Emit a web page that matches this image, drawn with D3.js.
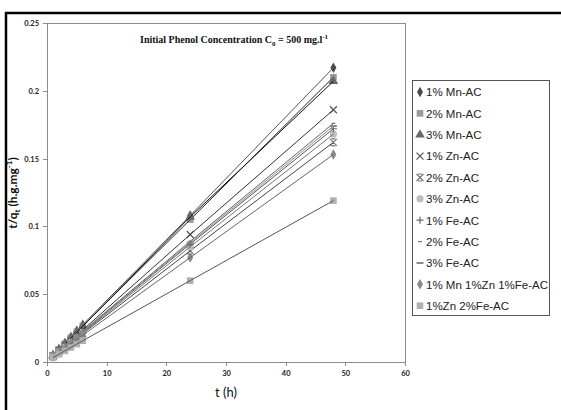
<!DOCTYPE html>
<html lang="en">
<head>
	<meta charset="utf-8">
	<title>Pseudo second order plot</title>
	<script src="https://cdn.jsdelivr.net/npm/d3@7"></script>
	<style type="text/css">
		body {
			margin: 0;
			background: #fff;
		}
		.axis path,
		.axis line {
			stroke: #8c8c8c;
			shape-rendering: crispEdges;
		}
		.axis text {
			font-family: Lato, "Open Sans", sans-serif;
			font-weight: bold;
			font-size: 7.5px;
			fill: #222;
		}
	</style>
</head>
<body>
	<div id="vis"></div>

	<script type="text/javascript">

		var w = 561;
		var h = 410;

		// data
		var times = [1, 2, 3, 4, 5, 6, 24, 48];
		var seriesNames = ["1% Mn-AC", "2% Mn-AC", "3% Mn-AC", "1% Zn-AC", "2% Zn-AC", "3% Zn-AC",
						   "1% Fe-AC", "2% Fe-AC", "3% Fe-AC", "1% Mn 1%Zn 1%Fe-AC", "1%Zn 2%Fe-AC"];
		var mn1 = [0.0050, 0.0095, 0.0140, 0.0185, 0.0230, 0.0275, 0.108, 0.217];
		var mn2 = [0.0048, 0.0092, 0.0135, 0.0180, 0.0223, 0.0267, 0.105, 0.210];
		var mn3 = [0.0047, 0.0090, 0.0133, 0.0177, 0.0220, 0.0263, 0.107, 0.207];
		var zn1 = [0.0044, 0.0083, 0.0121, 0.0160, 0.0198, 0.0237, 0.094, 0.186];
		var zn2 = [0.0040, 0.0074, 0.0108, 0.0142, 0.0176, 0.0210, 0.082, 0.162];
		var zn3 = [0.0041, 0.0076, 0.0111, 0.0146, 0.0181, 0.0216, 0.085, 0.168];
		var fe1 = [0.0042, 0.0078, 0.0114, 0.0150, 0.0186, 0.0222, 0.087, 0.172];
		var fe2 = [0.0043, 0.0080, 0.0117, 0.0154, 0.0191, 0.0228, 0.089, 0.176];
		var fe3 = [0.0042, 0.0079, 0.0116, 0.0152, 0.0189, 0.0225, 0.088, 0.174];
		var mix1 = [0.0038, 0.0070, 0.0102, 0.0134, 0.0166, 0.0198, 0.077, 0.153];
		var mix2 = [0.0032, 0.0057, 0.0082, 0.0107, 0.0132, 0.0157, 0.060, 0.119];
		var xTicks = [0, 10, 20, 30, 40, 50, 60];
		var yTicks = [0, 0.05, 0.1, 0.15, 0.2, 0.25];

		var allValues = [mn1, mn2, mn3, zn1, zn2, zn3, fe1, fe2, fe3, mix1, mix2];
		var markers = ["diamond", "square", "triangle", "x", "star", "circle", "plus", "dash", "bar", "diamond", "square"];
		var markerColors = ["#4a4a4a", "#9a9a9a", "#6a6a6a", "#555", "#777", "#bdbdbd", "#666", "#777", "#888", "#8a8a8a", "#b0b0b0"];
		var lineColors = ["#555", "#222", "#111", "#333", "#444", "#777", "#555", "#666", "#888", "#666", "#555"];

		var series = seriesNames.map(function(name, i) {
			return {
				name: name,
				marker: markers[i],
				mColor: markerColors[i],
				lColor: lineColors[i],
				values: times.map(function(t, j) { return { t: t, v: allValues[i][j] }; })
			};
		});

		var plot = { left: 47, right: 405, top: 23, bottom: 362 };

		var xScale = d3.scaleLinear()
						.domain([0, 60])
						.range([plot.left, plot.right]);

		var yScale = d3.scaleLinear()
						.domain([0, 0.25])
						.range([plot.bottom, plot.top]);

		var svg = d3.select("#vis")
					.append("svg")
					.attr("width", w)
					.attr("height", h);

		//Outer frame (only top and left visible)
		svg.append("rect")
			.attr("x", 6)
			.attr("y", 13)
			.attr("width", 600)
			.attr("height", 450)
			.attr("fill", "none")
			.attr("stroke", "#000")
			.attr("stroke-width", 2.5);

		//Plot area border
		svg.append("rect")
			.attr("x", plot.left)
			.attr("y", plot.top)
			.attr("width", plot.right - plot.left)
			.attr("height", plot.bottom - plot.top)
			.attr("fill", "none")
			.attr("stroke", "#8c8c8c")
			.attr("stroke-width", 1)
			.attr("shape-rendering", "crispEdges");

		//Axes
		var xAxis = d3.axisBottom(xScale)
						.tickValues(xTicks)
						.tickSize(4)
						.tickPadding(5)
						.tickFormat(d3.format("d"));

		var yAxis = d3.axisLeft(yScale)
						.tickValues(yTicks)
						.tickSize(4)
						.tickPadding(4)
						.tickFormat(function(d) { return d === 0 ? "0" : String(+d.toFixed(2)); });

		svg.append("g")
			.attr("class", "axis")
			.attr("transform", "translate(0," + plot.bottom + ")")
			.call(xAxis)
			.selectAll("text").attr("font-size", "9px");

		svg.append("g")
			.attr("class", "axis")
			.attr("transform", "translate(" + plot.left + ",0)")
			.call(yAxis);

		//Marker shapes
		function markerPath(type) {
			var s = 3.5;
			switch (type) {
				case "diamond": return d3.symbol().type(d3.symbolDiamond).size(32)();
				case "square": return d3.symbol().type(d3.symbolSquare).size(44)();
				case "triangle": return d3.symbol().type(d3.symbolTriangle).size(40)();
				case "circle": return d3.symbol().type(d3.symbolCircle).size(40)();
				case "x": return "M" + (-s) + "," + (-s) + "L" + s + "," + s + "M" + (-s) + "," + s + "L" + s + "," + (-s);
				case "star": return "M" + (-s) + "," + (-s) + "L" + s + "," + s + "M" + (-s) + "," + s + "L" + s + "," + (-s) + "M-2," + (-s) + "L2," + (-s) + "M-2," + s + "L2," + s;
				case "plus": return "M" + (-s) + ",0L" + s + ",0M0," + (-s) + "L0," + s;
				case "dash": return "M-2,0L2,0";
				case "bar": return "M" + (-s) + ",0L" + s + ",0";
			}
		}
		function isFilled(type) {
			return type === "diamond" || type === "square" || type === "triangle" || type === "circle";
		}

		var line = d3.line()
					.x(function(d) { return xScale(d.t); })
					.y(function(d) { return yScale(d.v); });

		//Markers first, then lines on top
		var groups = svg.selectAll("g.series")
			.data(series)
			.enter()
			.append("g")
			.attr("class", "series");

		groups.selectAll("path.mark")
			.data(function(d) { return d.values.map(function(p) { return { p: p, s: d }; }); })
			.enter()
			.append("path")
			.attr("class", "mark")
			.attr("d", function(d) { return markerPath(d.s.marker); })
			.attr("transform", function(d) { return "translate(" + xScale(d.p.t) + "," + yScale(d.p.v) + ")"; })
			.attr("fill", function(d) { return isFilled(d.s.marker) ? d.s.mColor : "none"; })
			.attr("stroke", function(d) { return isFilled(d.s.marker) ? "none" : d.s.mColor; })
			.attr("stroke-width", function(d) { return d.s.marker === "bar" ? 2 : 1.2; });

		groups.append("path")
			.attr("d", function(d) { return line(d.values); })
			.attr("fill", "none")
			.attr("stroke", function(d) { return d.lColor; })
			.attr("stroke-width", 1);

		//Title
		var title = svg.append("text")
			.attr("x", 140)
			.attr("y", 43)
			.attr("font-family", "'Liberation Serif', 'Times New Roman', serif")
			.attr("font-weight", "bold")
			.attr("font-size", "10px")
			.attr("fill", "#111");
		title.append("tspan").text("Initial Phenol Concentration C");
		title.append("tspan").attr("dy", 2.5).attr("font-size", "7px").text("0");
		title.append("tspan").attr("dy", -2.5).text(" = 500 mg.l");
		title.append("tspan").attr("dy", -4).attr("font-size", "7px").text("-1");

		//Y label
		var yLabel = svg.append("text")
			.attr("transform", "translate(17,193) rotate(-90)")
			.attr("text-anchor", "middle")
			.attr("font-family", "Lato, 'Open Sans', sans-serif")
			.attr("font-weight", "bold")
			.attr("font-size", "12px")
			.attr("fill", "#111");
		yLabel.append("tspan").text("t/q");
		yLabel.append("tspan").attr("dy", 3).attr("font-size", "8px").text("t");
		yLabel.append("tspan").attr("dy", -3).text(" (h.g.mg");
		yLabel.append("tspan").attr("dy", -5).attr("font-size", "8px").text("-1");
		yLabel.append("tspan").attr("dy", 5).text(")");

		//X label
		svg.append("text")
			.attr("x", 226)
			.attr("y", 397)
			.attr("text-anchor", "middle")
			.attr("font-family", "Lato, 'Open Sans', sans-serif")
			.attr("font-size", "13px")
			.attr("fill", "#111")
			.text("t (h)");

		//Legend
		var legend = svg.append("g");
		legend.append("rect")
			.attr("x", 412.5)
			.attr("y", 80.5)
			.attr("width", 137)
			.attr("height", 235)
			.attr("fill", "#fff")
			.attr("stroke", "#555")
			.attr("stroke-width", 1);

		var rowH = 21.37;
		var items = legend.selectAll("g.item")
			.data(series)
			.enter()
			.append("g")
			.attr("class", "item")
			.attr("transform", function(d, i) { return "translate(420," + (92 + i * rowH) + ")"; });

		items.append("path")
			.attr("d", function(d) { return markerPath(d.marker); })
			.attr("fill", function(d) { return isFilled(d.marker) ? d.mColor : "none"; })
			.attr("stroke", function(d) { return isFilled(d.marker) ? "none" : d.mColor; })
			.attr("stroke-width", function(d) { return d.marker === "bar" ? 2 : 1.2; });

		items.append("text")
			.attr("x", 6)
			.attr("y", 4.3)
			.attr("font-family", "'Liberation Sans', Arial, sans-serif")
			.attr("font-size", "11.5px")
			.attr("fill", "#222")
			.text(function(d) { return d.name; });

	</script>
</body>
</html>
